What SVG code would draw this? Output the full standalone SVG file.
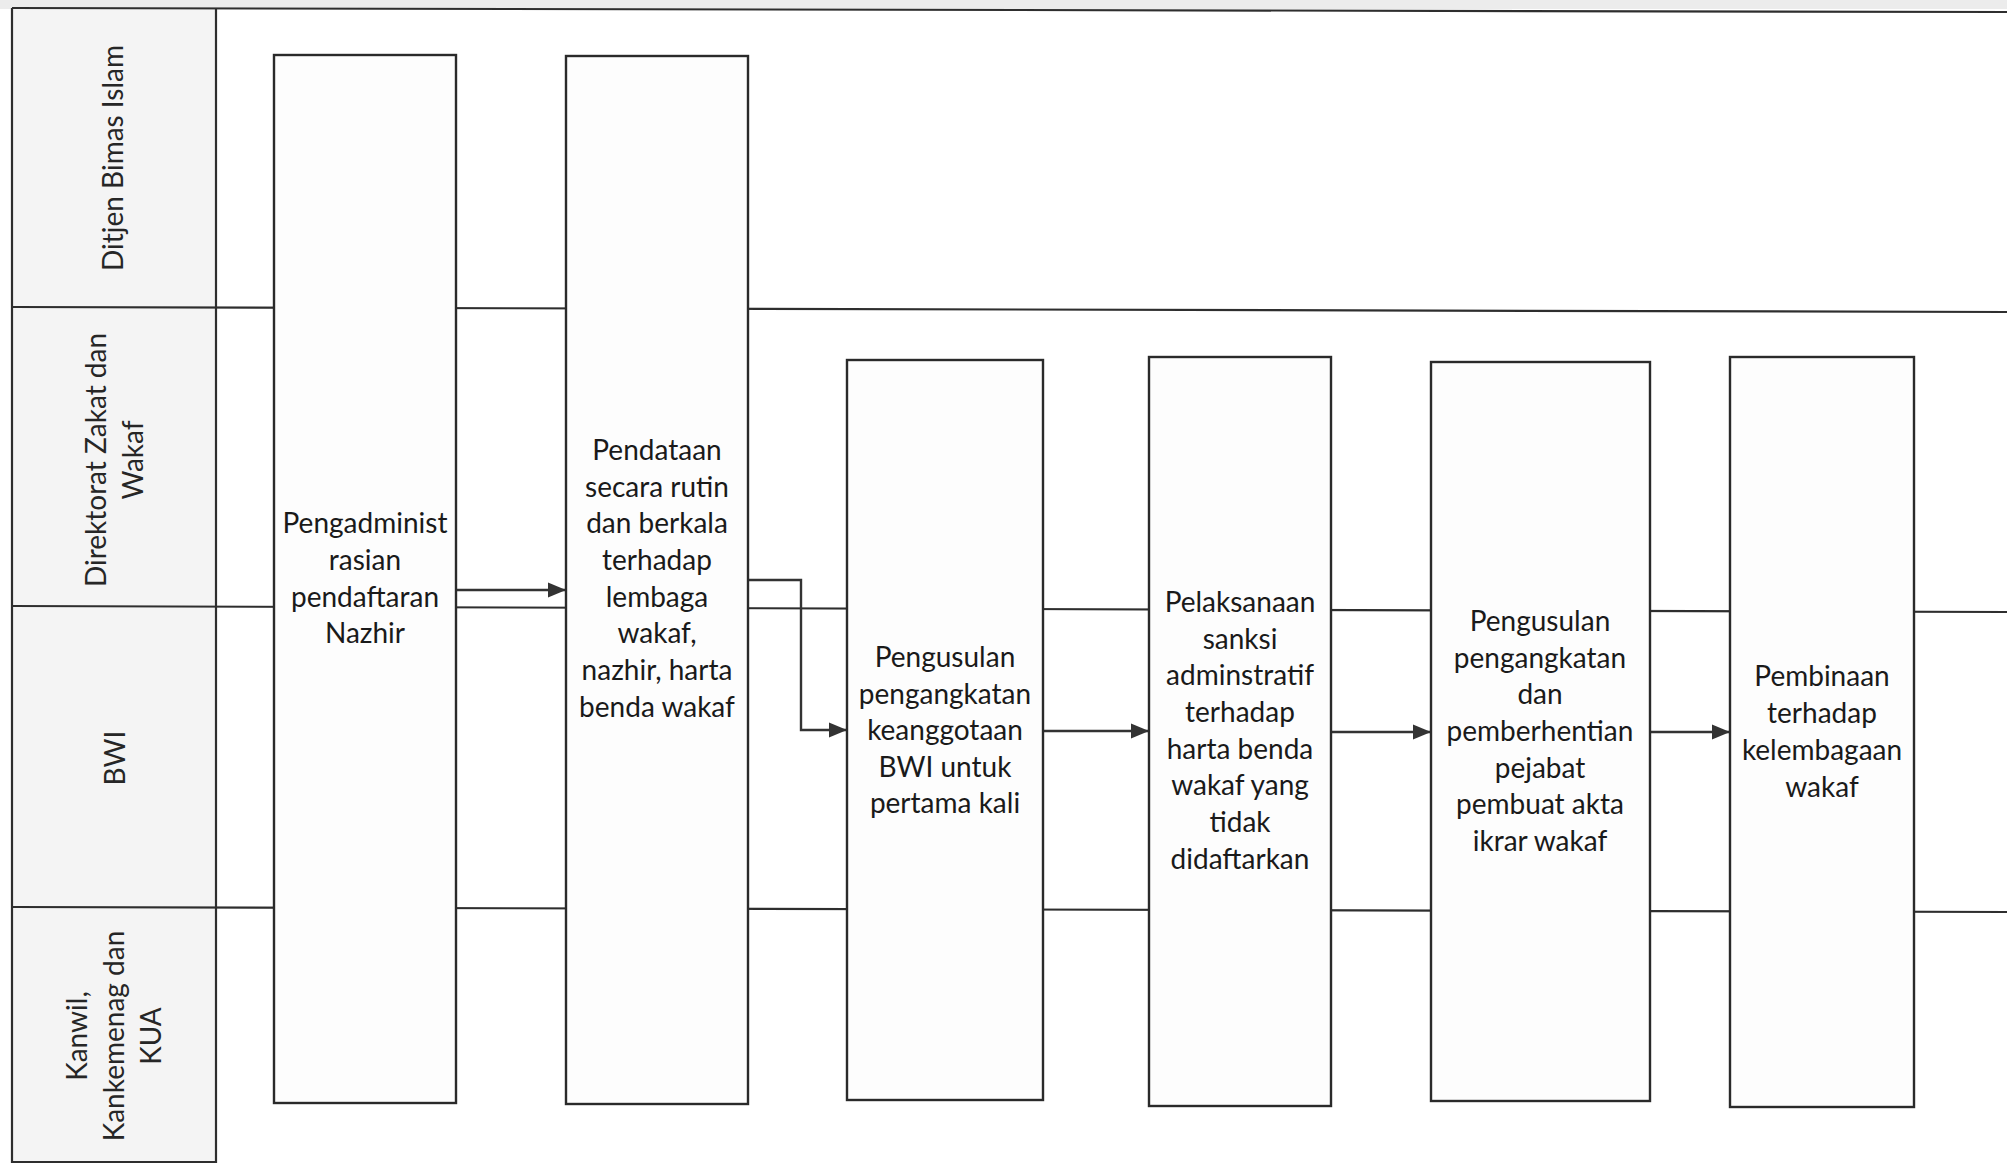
<svg xmlns="http://www.w3.org/2000/svg" width="2007" height="1164" viewBox="0 0 2007 1164">
<defs>
<style>
.ln{stroke:#2e2e2e;stroke-width:2.2;fill:none}
.box{fill:#fdfdfd;stroke:#2a2a2a;stroke-width:2.4}
.t{font-family:Lato,"Open Sans","Liberation Sans",sans-serif;font-size:28px;fill:#1a1a1a;text-anchor:middle}
.h{font-family:Lato,"Open Sans","Liberation Sans",sans-serif;font-size:28px;fill:#262626;text-anchor:middle;dominant-baseline:central}
.c{stroke:#333;stroke-width:2.4;fill:none;marker-end:url(#ah)}
</style>
<marker id="ah" markerUnits="userSpaceOnUse" markerWidth="18" markerHeight="18" viewBox="0 0 18 18" refX="17" refY="9" orient="auto">
<path d="M0,1.5 L18,9 L0,16.5 Z" fill="#333"/>
</marker>
</defs>
<rect x="0" y="0" width="2007" height="1164" fill="#ffffff"/>
<rect x="0" y="0" width="2007" height="9" fill="#ececec"/>
<g id="lanes">
<rect x="12" y="9" width="204" height="1154" fill="#f4f4f4"/>
<line class="ln" x1="12" y1="8" x2="2007" y2="12"/>
<line class="ln" x1="12" y1="8" x2="12" y2="1163"/>
<line class="ln" x1="216" y1="9" x2="216" y2="1163"/>
<line class="ln" x1="12" y1="1162" x2="216" y2="1162"/>
<line class="ln" x1="12" y1="307" x2="2007" y2="312"/>
<line class="ln" x1="12" y1="606" x2="2007" y2="612"/>
<line class="ln" x1="12" y1="907" x2="2007" y2="912"/>
<g id="lane-ditjen"><text class="h" transform="translate(112,158) rotate(-90)">Ditjen Bimas Islam</text></g>
<g id="lane-direktorat"><text class="h" transform="translate(95,460) rotate(-90)">Direktorat Zakat dan</text><text class="h" transform="translate(132,460) rotate(-90)">Wakaf</text></g>
<g id="lane-bwi"><text class="h" transform="translate(114,758) rotate(-90)">BWI</text></g>
<g id="lane-kanwil"><text class="h" transform="translate(76,1036) rotate(-90)">Kanwil,</text><text class="h" transform="translate(113,1036) rotate(-90)">Kankemenag dan</text><text class="h" transform="translate(150,1036) rotate(-90)">KUA</text></g>
</g>
<g id="connectors">
<path class="c" d="M456,590 L565,590"/>
<path class="c" d="M748,580 L801,580 L801,730 L846,730"/>
<path class="c" d="M1043,731 L1148,731"/>
<path class="c" d="M1331,732 L1430,732"/>
<path class="c" d="M1650,732 L1729,732"/>
</g>
<g id="n1">
<rect class="box" x="274" y="55" width="182" height="1048"/>
<text class="t" x="365" y="533">Pengadminist</text>
<text class="t" x="365" y="570">rasian</text>
<text class="t" x="365" y="607">pendaftaran</text>
<text class="t" x="365" y="643">Nazhir</text>
</g>
<g id="n2">
<rect class="box" x="566" y="56" width="182" height="1048"/>
<text class="t" x="657" y="460">Pendataan</text>
<text class="t" x="657" y="497">secara rutin</text>
<text class="t" x="657" y="533">dan berkala</text>
<text class="t" x="657" y="570">terhadap</text>
<text class="t" x="657" y="607">lembaga</text>
<text class="t" x="657" y="643">wakaf,</text>
<text class="t" x="657" y="680">nazhir, harta</text>
<text class="t" x="657" y="717">benda wakaf</text>
</g>
<g id="n3">
<rect class="box" x="847" y="360" width="196" height="740"/>
<text class="t" x="945" y="667">Pengusulan</text>
<text class="t" x="945" y="704">pengangkatan</text>
<text class="t" x="945" y="740">keanggotaan</text>
<text class="t" x="945" y="777">BWI untuk</text>
<text class="t" x="945" y="813">pertama kali</text>
</g>
<g id="n4">
<rect class="box" x="1149" y="357" width="182" height="749"/>
<text class="t" x="1240" y="612">Pelaksanaan</text>
<text class="t" x="1240" y="649">sanksi</text>
<text class="t" x="1240" y="685">adminstratif</text>
<text class="t" x="1240" y="722">terhadap</text>
<text class="t" x="1240" y="759">harta benda</text>
<text class="t" x="1240" y="795">wakaf yang</text>
<text class="t" x="1240" y="832">tidak</text>
<text class="t" x="1240" y="869">didaftarkan</text>
</g>
<g id="n5">
<rect class="box" x="1431" y="362" width="219" height="739"/>
<text class="t" x="1540" y="631">Pengusulan</text>
<text class="t" x="1540" y="668">pengangkatan</text>
<text class="t" x="1540" y="704">dan</text>
<text class="t" x="1540" y="741">pemberhentian</text>
<text class="t" x="1540" y="778">pejabat</text>
<text class="t" x="1540" y="814">pembuat akta</text>
<text class="t" x="1540" y="851">ikrar wakaf</text>
</g>
<g id="n6">
<rect class="box" x="1730" y="357" width="184" height="750"/>
<text class="t" x="1822" y="686">Pembinaan</text>
<text class="t" x="1822" y="723">terhadap</text>
<text class="t" x="1822" y="760">kelembagaan</text>
<text class="t" x="1822" y="797">wakaf</text>
</g>
</svg>
